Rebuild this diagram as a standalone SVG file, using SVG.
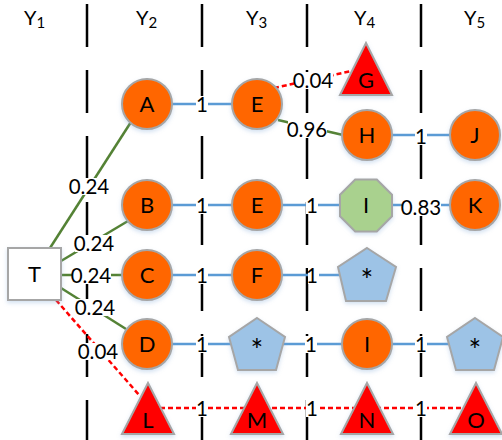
<svg xmlns="http://www.w3.org/2000/svg" width="502" height="440" viewBox="0 0 502 440">
<defs>
<filter id="sh" x="-30%" y="-30%" width="160%" height="160%">
<feDropShadow dx="0" dy="2" stdDeviation="2" flood-color="#7fa7d6" flood-opacity="0.35"/>
</filter>
<style>
.grid{stroke:#000;stroke-width:2.5;stroke-dasharray:43 23;fill:none}
.hdr{font-family:Lato,"Liberation Sans",sans-serif;font-size:20px;fill:#000}
.sub{font-size:15px}
.blue{stroke:#5B9BD5;stroke-width:2.5;fill:none}
.green{stroke:#548235;stroke-width:2.5;fill:none}
.red{stroke:#FF0000;stroke-width:2.5;stroke-dasharray:5 3;fill:none}
.lbl{font-family:Lato,"Liberation Sans",sans-serif;font-size:20.5px;fill:#000;text-anchor:middle}
.bg{fill:#fff}
.nt{font-family:Lato,"Liberation Sans",sans-serif;font-size:22px;fill:#000;text-anchor:middle}
.ast{font-family:Lato,"Liberation Sans",sans-serif;font-size:30px;fill:#000;text-anchor:middle}
.circ{fill:#FF6600;stroke:#A6A6A6;stroke-width:2;filter:url(#sh)}
.tri{fill:#FF0000;stroke:#A6A6A6;stroke-width:2;filter:url(#sh)}
.pent{fill:#9DC3E6;stroke:#A6A6A6;stroke-width:2;filter:url(#sh)}
.oct{fill:#A9D18E;stroke:#A6A6A6;stroke-width:2;filter:url(#sh)}
.box{fill:#fff;stroke:#A6A6A6;stroke-width:2;filter:url(#sh)}
</style>
</defs>
<rect width="502" height="440" fill="#fff"/>
<g id="grid">
<line class="grid" x1="87" y1="4" x2="87" y2="440"/>
<line class="grid" x1="202" y1="4" x2="202" y2="440"/>
<line class="grid" x1="307" y1="4" x2="307" y2="440"/>
<line class="grid" x1="421" y1="4" x2="421" y2="440"/>
</g>
<g id="headers">
<text class="hdr" x="24" y="25">Y<tspan class="sub" dy="3">1</tspan></text>
<text class="hdr" x="136" y="25">Y<tspan class="sub" dy="3">2</tspan></text>
<text class="hdr" x="246" y="25">Y<tspan class="sub" dy="3">3</tspan></text>
<text class="hdr" x="354" y="25">Y<tspan class="sub" dy="3">4</tspan></text>
<text class="hdr" x="464" y="25">Y<tspan class="sub" dy="3">5</tspan></text>
</g>
<g id="connectors">
<line class="green" x1="50" y1="248" x2="131" y2="122"/>
<line class="green" x1="61" y1="261" x2="128" y2="221"/>
<line class="green" x1="61" y1="275" x2="122" y2="275"/>
<line class="green" x1="61" y1="288" x2="126" y2="329"/>
<line class="red" x1="56" y1="300" x2="140" y2="396"/>
<line class="blue" x1="172" y1="104" x2="232" y2="104"/>
<line class="red" x1="274" y1="88" x2="356" y2="70"/>
<line class="green" x1="278" y1="120" x2="343" y2="135"/>
<line class="blue" x1="392" y1="135" x2="450" y2="135"/>
<line class="blue" x1="172" y1="205" x2="232" y2="205"/>
<line class="blue" x1="282" y1="205" x2="340" y2="205"/>
<line class="blue" x1="392" y1="205" x2="450" y2="205"/>
<line class="blue" x1="172" y1="275" x2="232" y2="275"/>
<line class="blue" x1="282" y1="275" x2="340" y2="275"/>
<line class="blue" x1="172" y1="344" x2="232" y2="344"/>
<line class="blue" x1="282" y1="344" x2="342" y2="344"/>
<line class="blue" x1="392" y1="344" x2="450" y2="344"/>
<line class="red" x1="160" y1="408" x2="462" y2="408"/>
</g>
<g id="labels">
<rect class="bg" x="196" y="96" width="12" height="17"/><text class="lbl" x="202" y="111.5">1</text>
<rect class="bg" x="294" y="72" width="39" height="17"/><text class="lbl" x="313" y="87.5">0.04</text>
<rect class="bg" x="288" y="121" width="39" height="17"/><text class="lbl" x="307" y="136.5">0.96</text>
<rect class="bg" x="415" y="128" width="12" height="17"/><text class="lbl" x="421" y="143.5">1</text>
<rect class="bg" x="70" y="178" width="39" height="17"/><text class="lbl" x="89" y="193.5">0.24</text>
<rect class="bg" x="75" y="235" width="39" height="17"/><text class="lbl" x="94" y="250.5">0.24</text>
<rect class="bg" x="72" y="267" width="39" height="17"/><text class="lbl" x="91" y="282.5">0.24</text>
<rect class="bg" x="76" y="299" width="39" height="17"/><text class="lbl" x="95" y="314.5">0.24</text>
<rect class="bg" x="79" y="343" width="39" height="17"/><text class="lbl" x="98" y="358.5">0.04</text>
<rect class="bg" x="196" y="197" width="12" height="17"/><text class="lbl" x="202" y="212.5">1</text>
<rect class="bg" x="306" y="197" width="12" height="17"/><text class="lbl" x="312" y="212.5">1</text>
<rect class="bg" x="402" y="199" width="39" height="17"/><text class="lbl" x="421" y="214.5">0.83</text>
<rect class="bg" x="196" y="267" width="12" height="17"/><text class="lbl" x="202" y="282.5">1</text>
<rect class="bg" x="308" y="267" width="11" height="17"/><text class="lbl" x="312" y="282.5">1</text>
<rect class="bg" x="196" y="336" width="12" height="17"/><text class="lbl" x="202" y="351.5">1</text>
<rect class="bg" x="305" y="336" width="12" height="17"/><text class="lbl" x="311" y="351.5">1</text>
<rect class="bg" x="415" y="336" width="12" height="17"/><text class="lbl" x="421" y="351.5">1</text>
<rect class="bg" x="196" y="400" width="12" height="17"/><text class="lbl" x="202" y="415.5">1</text>
<rect class="bg" x="306" y="400" width="12" height="17"/><text class="lbl" x="312" y="415.5">1</text>
<rect class="bg" x="415" y="400" width="12" height="17"/><text class="lbl" x="421" y="415.5">1</text>
</g>
<g id="T"><rect class="box" x="8" y="248" width="53" height="52"/><text class="nt" x="34.5" y="282">T</text></g>
<g id="A"><circle class="circ" cx="147" cy="104" r="25"/><text class="nt" x="147" y="112">A</text></g>
<g id="E1"><circle class="circ" cx="257" cy="104" r="25"/><text class="nt" x="257" y="112">E</text></g>
<g id="G"><polygon class="tri" points="366,43 340,95 392,95"/><text class="nt" x="366" y="88">G</text></g>
<g id="H"><circle class="circ" cx="367" cy="135" r="25"/><text class="nt" x="367" y="143">H</text></g>
<g id="J"><circle class="circ" cx="475" cy="135" r="25"/><text class="nt" x="475" y="143">J</text></g>
<g id="B"><circle class="circ" cx="147" cy="205" r="25"/><text class="nt" x="147" y="213">B</text></g>
<g id="E2"><circle class="circ" cx="257" cy="205" r="25"/><text class="nt" x="257" y="213">E</text></g>
<g id="I1"><polygon class="oct" points="355.2,179.5 376.8,179.5 392,194.7 392,216.3 376.8,231.5 355.2,231.5 340,216.3 340,194.7"/><text class="nt" x="366" y="213">I</text></g>
<g id="K"><circle class="circ" cx="475" cy="205" r="25"/><text class="nt" x="475" y="213">K</text></g>
<g id="C"><circle class="circ" cx="147" cy="275" r="25"/><text class="nt" x="147" y="283">C</text></g>
<g id="F"><circle class="circ" cx="257" cy="275" r="25"/><text class="nt" x="257" y="283">F</text></g>
<g id="P1"><polygon class="pent" points="367,248 396,267 386,301 346,301 338,267"/><text class="ast" x="367" y="291">*</text></g>
<g id="D"><circle class="circ" cx="147" cy="344" r="25"/><text class="nt" x="147" y="352">D</text></g>
<g id="P2"><polygon class="pent" points="257,318 285,337 276,370 238,370 229,337"/><text class="ast" x="257" y="361">*</text></g>
<g id="I2"><circle class="circ" cx="367" cy="344" r="25"/><text class="nt" x="367" y="352">I</text></g>
<g id="P3"><polygon class="pent" points="475,318 503,337 494,370 456,370 447,337"/><text class="ast" x="475" y="361">*</text></g>
<g id="L"><polygon class="tri" points="148,383 122,434 174,434"/><text class="nt" x="148" y="428">L</text></g>
<g id="M"><polygon class="tri" points="257,383 231,434 283,434"/><text class="nt" x="257" y="428">M</text></g>
<g id="N"><polygon class="tri" points="367,383 341,434 393,434"/><text class="nt" x="367" y="428">N</text></g>
<g id="O"><polygon class="tri" points="476,383 450,434 502,434"/><text class="nt" x="476" y="428">O</text></g>
</svg>
